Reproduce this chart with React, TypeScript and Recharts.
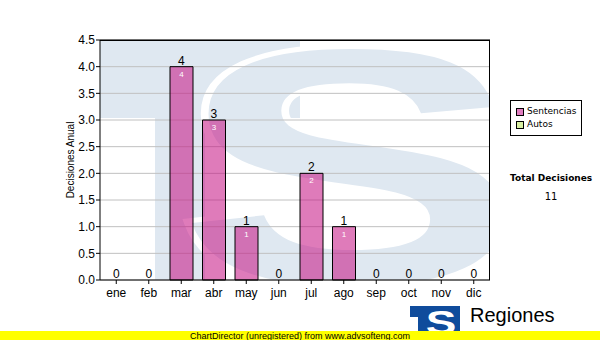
import React from 'react';
import { ComposedChart, Bar, Line, XAxis, YAxis, CartesianGrid, Legend, LabelList, ReferenceLine } from 'recharts';

const months = ['ene', 'feb', 'mar', 'abr', 'may', 'jun', 'jul', 'ago', 'sep', 'oct', 'nov', 'dic'];
const sentencias = [0, 0, 4, 3, 1, 0, 2, 1, 0, 0, 0, 0];
const autos = [0, 0, 0, 0, 0, 0, 0, 0, 0, 0, 0, 0];
const yTicks = [0, 0.5, 1, 1.5, 2, 2.5, 3, 3.5, 4, 4.5];
const seriesNames = ['Sentencias', 'Autos'];
const seriesSwatches = ['#e07dbf', '#d9f0a3'];
const yTitle = 'Decisiones Anual';
const totalTitle = 'Total Decisiones';
const footerText = 'ChartDirector (unregistered) from www.advsofteng.com';
const brandText = 'Regiones';
const brandSub = 'Tribunal Supremo de Justicia';

const data = months.map((m, i) => ({
  month: m,
  Sentencias: sentencias[i],
  Autos: autos[i],
  total: sentencias[i] + autos[i],
}));
const totalDecisiones = data.reduce((s, d) => s + d.total, 0);

const FONT = '"Liberation Sans", Arial, sans-serif';
const VFONT = '"DejaVu Sans", Verdana, sans-serif';
const LIGHT = '#dfe8f1';

const InnerLabel = (props: any) => {
  const { x, y, width, value } = props;
  if (!value) return null;
  return (
    <text x={Number(x) + Number(width) / 2} y={Number(y) + 10} textAnchor="middle" fill="#fff" fontSize={8} fontFamily={FONT}>
      {value}
    </text>
  );
};

const TopLabel = (props: any) => {
  const { x, y, value } = props;
  if (value === undefined || value === null) return null;
  return (
    <text x={Number(x)} y={Number(y) - 2} textAnchor="middle" fill="#000" fontSize={12} fontFamily={FONT}>
      {value}
    </text>
  );
};

const LegendBox = () => (
  <div style={{ border: '1px solid #000', width: 72, height: 36, boxSizing: 'border-box', background: '#fff', padding: '4px 0 0 5px', fontFamily: VFONT, fontSize: 9, lineHeight: '13px', color: '#000' }}>
    {seriesNames.map((n, i) => (
      <div key={n} style={{ display: 'flex', alignItems: 'center', height: 13 }}>
        <span style={{ display: 'inline-block', width: 6, height: 6, border: '1px solid #000', background: seriesSwatches[i], marginRight: 3 }} />
        <span>{n}</span>
      </div>
    ))}
  </div>
);

export default function App() {
  return (
    <div style={{ position: 'absolute', left: 0, top: 0, width: 600, height: 340, background: '#fff', overflow: 'hidden' }}>
      <svg width={600} height={340} style={{ position: 'absolute', left: 0, top: 0 }}>
        <defs>
          <clipPath id="plotclip">
            <rect x={100} y={40} width={390} height={240} />
          </clipPath>
        </defs>
        <g clipPath="url(#plotclip)">
          <rect x={100} y={40} width={390} height={240} fill="#fff" />
          <rect x={100} y={40} width={200} height={78} fill={LIGHT} />
          <rect x={155} y={40} width={50} height={240} fill={LIGHT} />
          <text
            x={0}
            y={0}
            transform="translate(350,283) scale(1.55,1)"
            textAnchor="middle"
            fontFamily={FONT}
            fontWeight="bold"
            fontSize={335}
            fill={LIGHT}
            stroke="#fff"
            strokeWidth={10}
            style={{ paintOrder: 'stroke' } as any}
          >
            S
          </text>
        </g>
      </svg>
      <div style={{ position: 'absolute', left: 0, top: 0 }}>
        <ComposedChart width={600} height={340} data={data} margin={{ top: 40, right: 110, bottom: 30, left: 60 }} style={{ fontFamily: FONT }}>
          <CartesianGrid vertical={false} stroke="#c0c0c0" strokeWidth={1} />
          <XAxis
            dataKey="month"
            interval={0}
            height={30}
            tickSize={4}
            tickMargin={4}
            axisLine={{ stroke: '#000' }}
            tickLine={{ stroke: '#000' }}
            tick={{ fill: '#000', fontSize: 12, fontFamily: FONT }}
          />
          <YAxis
            width={40}
            domain={[0, 4.5]}
            ticks={yTicks}
            interval={0}
            tickFormatter={(v: number) => v.toFixed(1)}
            tickSize={4}
            tickMargin={1}
            axisLine={{ stroke: '#000' }}
            tickLine={{ stroke: '#000' }}
            tick={{ fill: '#000', fontSize: 12, fontFamily: FONT }}
            label={{ value: yTitle, angle: -90, position: 'insideLeft', offset: 10, fill: '#000', fontSize: 10, fontFamily: FONT, style: { textAnchor: 'middle' } }}
          />
          <ReferenceLine y={4.5} stroke="#000" />
          <Legend layout="vertical" align="center" verticalAlign="middle" wrapperStyle={{ left: 510, top: 100, width: 72, height: 36 }} content={() => <LegendBox />} />
          <Bar dataKey="Sentencias" stackId="a" fill="#c40f82" fillOpacity={0.55} stroke="#000" strokeWidth={1} barSize={23} isAnimationActive={false}>
            <LabelList dataKey="Sentencias" content={InnerLabel} />
          </Bar>
          <Bar dataKey="Autos" stackId="a" fill="#d9f0a3" barSize={23} isAnimationActive={false} />
          <Line dataKey="total" stroke="none" dot={false} activeDot={false} legendType="none" isAnimationActive={false}>
            <LabelList dataKey="total" content={TopLabel} />
          </Line>
        </ComposedChart>
      </div>
      <svg width={600} height={340} style={{ position: 'absolute', left: 0, top: 0, pointerEvents: 'none' }}>
        <line x1={489.5} y1={40} x2={489.5} y2={280} stroke="#000" />
        <line x1={100} y1={40.5} x2={490} y2={40.5} stroke="#000" />
        <text x={510} y={181} fontFamily={VFONT} fontWeight="bold" fontSize={9} fill="#000">{totalTitle}</text>
        <text x={551} y={200} textAnchor="middle" fontFamily={VFONT} fontSize={10} fill="#000">{totalDecisiones}</text>
        <rect x={410} y={306} width={50} height={34} fill="#0f4c9c" />
        <rect x={410} y={317} width={8} height={23} fill="#fff" />
        <text x={0} y={0} transform="translate(441,334) scale(1.35,1)" textAnchor="middle" fontFamily={FONT} fontWeight="bold" fontSize={34} fill="#fff">S</text>
        <text x={470} y={322} fontFamily={FONT} fontSize={20} fill="#000">{brandText}</text>
        <text x={468} y={340} fontFamily={FONT} fontSize={11} fill="#000">{brandSub}</text>
        <rect x={0} y={331} width={600} height={9} fill="#ffff00" />
        <text x={300} y={339} textAnchor="middle" fontFamily={FONT} fontSize={9} fill="#000">{footerText}</text>
      </svg>
    </div>
  );
}
